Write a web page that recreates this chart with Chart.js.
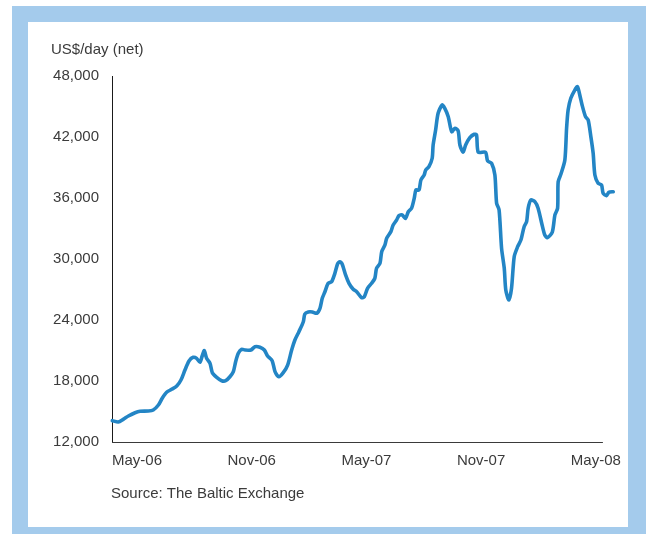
<!DOCTYPE html>
<html>
<head>
<meta charset="utf-8">
<script src="https://cdn.jsdelivr.net/npm/chart.js@4"></script>
<style>
  html, body { margin:0; padding:0; background:#ffffff; }
  #wrap { position:relative; width:646px; height:534px; overflow:hidden; }
  #frame { position:absolute; left:12px; top:6px; width:640px; height:534px; background:#a4cbec; }
  #inner { position:absolute; left:28px; top:22px; width:600px; height:505px; background:#ffffff; }
  canvas { position:absolute; left:0; top:0; }
</style>
</head>
<body>
<div id="wrap">
  <div id="frame"></div>
  <div id="inner"></div>
  <canvas id="c" width="646" height="534"></canvas>
</div>
<script>
// Months since May-06 (x) and time-charter rate in US$/day (y)
const months = [-1.29,-0.98,-0.72,-0.45,-0.10,0.16,0.59,0.85,1.12,1.32,1.55,1.81,2.08,2.30,2.51,2.72,2.94,3.12,3.29,3.41,3.52,3.64,3.82,3.94,4.17,4.43,4.64,4.86,5.04,5.16,
  5.30,5.47,5.65,5.96,6.17,6.43,6.66,6.83,7.07,7.22,7.42,7.65,7.88,8.09,8.26,8.47,8.70,8.78,8.96,9.17,9.40,9.57,9.69,9.83,10.00,10.18,10.35,10.49,10.61,10.73,10.91,11.09,11.31,
  11.49,11.75,11.89,12.06,12.27,12.44,12.53,12.71,12.80,12.97,13.06,13.28,13.40,13.58,13.70,13.87,14.05,14.19,14.36,14.50,14.59,14.75,14.85,15.02,15.10,15.27,15.44,15.49,15.62,15.75,15.96,16.10,16.28,16.46,16.63,16.80,16.89,17.06,17.19,17.41,17.64,
  17.76,17.85,18.23,18.34,18.55,18.72,18.81,18.94,19.07,19.21,19.29,19.45,19.59,19.73,19.91,20.08,20.25,20.38,20.46,20.60,20.81,20.98,21.19,21.33,21.47,21.72,21.86,22.00,22.03,22.17,22.38,22.47,22.55,22.69,22.90,23.04,23.16,23.28,23.46,23.60,23.74,23.86,23.95,24.12,24.30,24.38,24.56,24.68,24.91];
const rates = [14100,13970,14230,14560,14880,15020,15050,15150,15640,16300,16890,17180,17510,18100,19080,19970,20330,20230,19840,20460,20980,20230,19740,18820,18360,18030,18030,18420,18920,19900,
  20720,21120,21050,21050,21370,21320,21050,20460,20000,18920,18420,18820,19570,21050,22030,22850,23830,24590,24790,24790,24660,25150,26130,26780,27610,27770,28590,29510,29730,29510,28430,27610,27020,
  26780,26190,26290,27120,27610,28100,29090,29580,30720,31380,32040,32690,33340,33840,34260,34330,34000,34650,34990,35970,36790,36790,37770,38260,38750,39080,39910,41210,42690,44330,45150,44820,44000,42520,42860,42590,41210,40500,41210,41930,42270,
  42200,40500,40500,39640,39410,38260,35480,34820,31050,29090,26950,25970,27120,30230,31210,31870,33180,33670,34990,35800,35640,34990,33340,32360,32100,32630,34330,34990,37600,38330,39740,42860,44660,45810,46620,46950,46130,45150,44000,43670,42030,40400,38260,37450,37280,36460,36230,36560,36620];
const tickMonths = [0, 6, 12, 18, 24];
const tickLabels = ['May-06', 'Nov-06', 'May-07', 'Nov-07', 'May-08'];
const xMin = -1.307, xMax = 24.95, xAxisEnd = 24.37;
const yTitle = 'US$/day (net)';
const sourceText = 'Source: The Baltic Exchange';

const FONT = '"Liberation Sans", Arial, Helvetica, sans-serif';
const TEXT = '#3b3b3b';

const textPlugin = {
  id: 'texts',
  beforeDatasetsDraw(chart) {
    const ctx = chart.ctx;
    const area = chart.chartArea;
    const xs = chart.scales.x;
    ctx.save();
    ctx.strokeStyle = '#3a3a3a';
    ctx.lineWidth = 1;
    ctx.beginPath();
    ctx.moveTo(area.left, Math.round(area.bottom) + 0.5);
    ctx.lineTo(xs.getPixelForValue(xAxisEnd), Math.round(area.bottom) + 0.5);
    ctx.stroke();
    ctx.restore();
  },
  afterDraw(chart) {
    const ctx = chart.ctx;
    const area = chart.chartArea;
    ctx.save();
    ctx.font = '15px ' + FONT;
    ctx.fillStyle = TEXT;
    ctx.textAlign = 'left';
    ctx.textBaseline = 'alphabetic';
    ctx.fillText(yTitle, 51, area.top - 22);
    ctx.fillText(sourceText, area.left - 1, area.bottom + 56);
    ctx.restore();
  }
};

new Chart(document.getElementById('c'), {
  type: 'line',
  data: {
    datasets: [{
      data: months.map((m, i) => ({ x: m, y: rates[i] })),
      borderColor: '#2385c5',
      borderWidth: 3.6,
      pointRadius: 0,
      tension: 0.25,
      borderJoinStyle: 'round',
      borderCapStyle: 'round',
      fill: false,
      clip: false
    }]
  },
  options: {
    responsive: false,
    animation: false,
    events: [],
    layout: { padding: { left: 0, top: 76, right: 32, bottom: 62 } },
    plugins: { legend: { display: false }, tooltip: { enabled: false }, title: { display: false } },
    scales: {
      x: {
        type: 'linear',
        min: xMin,
        max: xMax,
        grid: { display: false, drawTicks: false },
        border: { display: false },
        afterBuildTicks(scale) { scale.ticks = tickMonths.map(v => ({ value: v })); },
        afterFit(scale) { scale.height = 30; },
        ticks: {
          autoSkip: false,
          maxRotation: 0,
          padding: 10,
          color: TEXT,
          font: { family: FONT, size: 15 },
          callback(value) { const i = tickMonths.indexOf(value); return i >= 0 ? tickLabels[i] : ''; }
        }
      },
      y: {
        min: 12000,
        max: 48000,
        grid: { display: false, drawTicks: false },
        border: { display: true, color: '#1a1a1a', width: 1 },
        afterFit(scale) { scale.width = 112; },
        ticks: {
          stepSize: 6000,
          padding: 13,
          color: TEXT,
          font: { family: FONT, size: 15 },
          callback(value) { return value.toLocaleString('en-US'); }
        }
      }
    }
  },
  plugins: [textPlugin]
});
</script>
</body>
</html>
